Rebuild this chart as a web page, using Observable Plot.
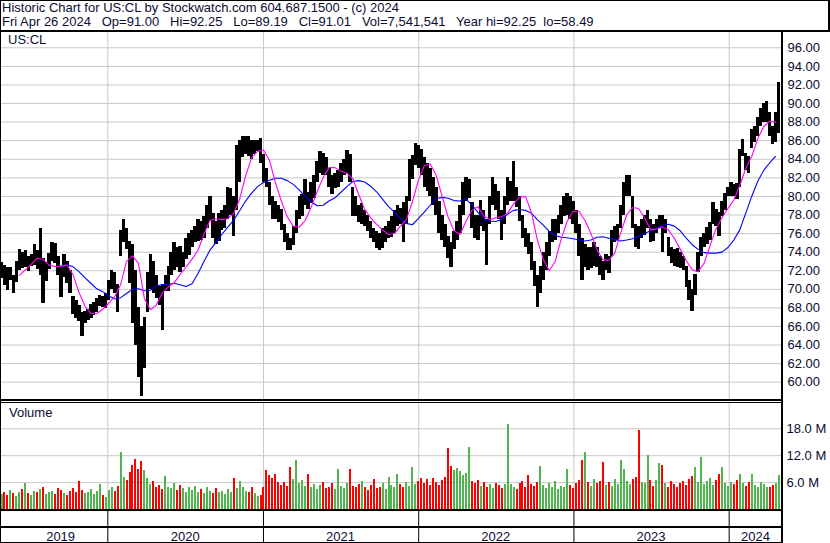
<!DOCTYPE html>
<html><head><meta charset="utf-8">
<script src="https://cdn.jsdelivr.net/npm/d3@7"></script>
<script src="https://cdn.jsdelivr.net/npm/@observablehq/plot@0.6"></script>
<style>
body{margin:0;background:#fff;}
#wrap{position:relative;width:830px;height:543px;overflow:hidden;background:#fff;font-family:"Liberation Sans",Arial,sans-serif;color:#0b0b33;}
.blk{position:absolute;background:#000;}
.txt{position:absolute;font-size:13px;line-height:14px;white-space:pre;color:#0b0b33;}
</style>
</head><body>
<div id="wrap"></div>
<script>
// ---------------- data ----------------
const symbol = "US:CL";
const titleLine = "Historic Chart for US:CL by Stockwatch.com 604.687.1500 - (c) 2024";
const quoteDate = "Fri Apr 26 2024";
const quoteLabels = ["Op", "Hi", "Lo", "Cl", "Vol", "Year hi", "lo"];
const quoteValues = ["91.00", "92.25", "89.19", "91.01", "7,541,541", "92.25", "58.49"];

const weekStart = "2019-04-26";
const chartEnd = "2024-04-26";

// weekly high / low (one bar per week)
const weekHigh = [
72.9,72.6,72.3,72.4,71.5,73.0,74.3,74.0,74.2,73.5,73.8,74.8,74.2,76.5,73.3,72.9,73.9,75.0,74.9,73.5,
72.5,73.8,73.0,72.0,69.2,68.8,68.3,67.5,67.6,67.8,68.4,68.6,69.0,69.3,69.2,69.6,71.0,72.0,71.8,70.5,
76.3,77.5,76.6,75.2,74.8,72.0,68.0,66.0,67.0,71.8,73.8,73.0,71.5,70.3,70.5,71.5,72.5,74.0,75.0,74.5,
74.6,74.0,75.5,76.0,76.3,76.8,
77.5,77.3,77.8,79.0,80.0,78.2,77.3,78.2,78.5,79.0,
81.0,80.8,80.0,85.5,86.0,86.4,86.5,86.5,86.0,86.0,
86.0,86.2,84.5,83.0,81.5,80.0,79.4,79.0,78.6,77.0,
76.0,75.5,76.8,78.5,80.0,80.2,81.8,80.4,81.5,82.2,
83.8,84.8,84.6,84.2,83.0,82.3,82.5,82.8,83.5,84.0,
84.9,84.5,81.0,80.0,79.0,79.2,78.5,78.0,77.3,76.6,
76.2,76.0,76.5,76.8,77.3,77.8,78.5,79.0,78.7,79.3,
80.0,84.0,84.4,85.7,85.5,85.0,84.2,83.5,83.0,82.0,
81.0,79.5,78.0,77.0,75.7,75.0,76.2,77.3,79.0,81.5,
82.0,81.8,79.3,78.0,78.0,79.6,78.5,77.5,80.0,82.0,
81.3,80.5,78.5,80.0,82.0,81.6,83.8,81.0,80.0,78.0,
76.5,76.0,75.0,73.0,71.5,72.5,74.0,75.0,76.2,77.5,
77.5,78.0,79.0,80.0,80.3,80.0,79.5,78.5,77.0,75.5,
74.8,
74.5,74.5,75.0,74.5,73.5,73.0,73.8,73.5,76.3,76.8,
77.0,79.0,81.5,82.2,82.2,80.0,77.0,76.8,77.5,78.0,
78.5,77.5,77.0,77.5,78.0,78.0,77.5,75.6,74.5,74.3,
74.4,74.0,73.5,72.5,71.0,70.0,71.6,74.0,75.6,76.0,
76.7,77.2,79.3,78.6,78.3,79.5,80.3,81.0,81.5,81.3,
81.4,85.0,86.1,84.6,84.3,87.2,87.5,88.5,89.5,90.0,
90.2,89.0,87.5,89.0,92.25
];
const weekLow = [
71.2,70.4,69.9,70.9,69.5,70.7,72.0,72.2,72.4,71.9,72.5,72.6,72.1,71.5,68.5,70.8,72.1,73.0,72.8,71.5,
69.1,71.3,70.6,69.6,67.3,66.9,66.5,64.9,66.3,66.6,66.9,67.2,67.5,68.2,68.0,67.9,68.8,70.0,69.5,67.5,
73.5,75.0,74.3,70.6,66.3,64.0,60.5,58.5,61.5,67.5,70.0,69.5,69.0,68.3,65.6,69.8,69.8,71.5,72.0,72.3,
71.8,72.4,73.2,73.6,74.5,75.0,
75.2,75.3,75.5,76.5,77.3,75.5,74.8,75.2,76.3,76.5,
77.5,78.0,75.7,78.5,81.5,84.2,84.5,84.3,84.0,84.5,
84.8,83.5,81.5,81.0,79.0,77.5,77.5,77.2,76.3,75.0,
74.2,74.2,74.7,76.0,77.5,77.8,79.0,78.6,79.2,79.8,
81.5,82.5,82.3,82.2,81.0,80.2,80.8,81.0,81.5,82.2,
82.5,81.5,77.8,77.8,77.2,77.0,76.8,76.2,75.5,75.0,
74.4,74.2,74.4,75.0,75.5,75.6,76.0,76.8,77.0,75.0,
77.0,79.5,81.8,83.3,83.0,82.2,81.0,80.5,80.0,79.0,
78.0,76.0,75.3,74.5,73.3,72.3,74.3,75.3,76.0,78.0,
79.5,79.8,76.5,75.5,75.3,76.8,76.2,72.6,77.0,79.0,
78.5,77.5,75.3,77.0,79.0,79.5,79.5,78.8,77.3,75.5,
74.5,73.8,72.0,70.3,68.0,69.5,71.0,72.0,73.5,75.0,
75.3,76.0,77.0,77.8,78.0,77.5,77.0,76.0,73.5,71.0,
72.3,
72.0,72.2,72.5,72.3,71.5,71.0,72.0,71.7,73.5,75.0,
75.3,76.5,78.0,80.0,80.0,76.5,74.5,74.3,75.5,75.8,
76.5,75.0,75.2,76.0,76.5,74.0,76.0,73.5,72.8,72.5,
72.3,72.2,72.0,70.2,68.8,67.6,69.3,71.8,73.5,74.5,
74.8,75.3,77.0,76.8,75.7,77.8,78.5,80.0,80.0,80.0,
79.7,81.0,84.3,82.8,82.5,85.2,85.8,86.5,87.5,88.0,
88.0,86.5,85.6,85.8,86.8
];
// weekly volume, millions of shares
const weekVolM = [
3.4,3.9,3.1,4.2,3.6,3.0,3.8,4.4,5.8,3.5, 3.2,4.0,3.7,4.5,4.9,3.3,3.9,4.1,3.4,4.6,
4.3,3.6,3.2,4.0,4.7,3.8,6.3,4.2,3.5,3.9, 4.4,3.3,4.0,5.6,3.1,2.6,4.2,4.8,4.0,5.1,
12.7,7.2,6.5,8.3,9.8,11.2,9.0,10.6,8.8,6.9, 5.5,6.2,4.8,5.3,4.5,7.4,5.0,4.6,5.9,4.3,
5.4,4.7,3.9,4.8,4.2,5.1,3.8,4.4,3.6,4.9, 4.0,3.5,4.6,3.8,4.1,3.4,4.5,3.9,6.9,4.6,
6.2,4.8,4.0,3.7,4.9,3.6,2.8,3.2,5.0,8.6, 7.6,7.0,7.9,6.1,5.4,6.0,5.2,9.4,6.6,11.0,
5.8,6.4,5.2,7.7,4.9,5.6,4.5,5.3,6.1,4.7, 5.0,5.7,4.4,8.9,5.2,4.6,5.9,9.0,5.1,4.8,
5.5,6.3,4.9,4.2,5.4,6.8,4.6,5.0,5.8,4.4, 7.2,5.3,4.9,7.9,5.6,4.8,6.0,5.1,9.4,5.5,
6.2,6.9,5.7,6.6,5.3,7.0,6.1,5.4,6.4,7.2, 13.6,9.5,8.8,9.2,8.4,7.6,8.0,13.8,6.3,5.9,
6.5,5.2,6.0,4.9,5.6,4.7,5.8,5.3,4.6,5.5, 19.0,5.6,5.0,4.4,5.8,6.2,4.8,7.6,5.5,5.1,
6.0,9.7,5.3,4.6,5.7,5.0,6.3,4.5,5.2,4.9, 8.9,5.4,4.7,5.9,6.4,11.0,12.7,6.0,5.2,6.6,
5.8,6.2,10.5,5.4,6.0,5.1,6.7,5.6,11.0,9.0, 6.3,5.5,6.8,7.2,17.7,6.1,5.7,12.1,6.5,5.2,
6.4,10.3,9.8,5.8,5.0,6.2,5.5,4.9,5.9,6.3, 5.4,6.6,7.4,9.4,6.0,11.7,5.6,6.2,7.0,5.3,
6.5,7.9,9.4,5.7,5.1,6.0,5.5,6.4,7.9,5.8, 5.2,6.0,7.7,5.4,4.9,6.1,5.6,5.0,4.8,5.3,
5.9,7.5
];
// moving averages, one value every two weeks
const maStepDays = 14;
const maShort = [
null,null,null,71.5,72.1,72.7,73.35,73.2,72.6,72.45,
72.5,72.6,71.6,69.7,68.2,67.4,67.4,67.85,68.5,69.2,
70.5,73.0,73.6,72.8,69.0,67.8,68.3,69.6,70.25,70.7,
71.6,72.4,73.25,74.2,75.9,77.4,77.6,77.5,77.6,78.2,
79.7,82.2,84.15,84.85,85.0,83.9,81.5,79.5,77.8,76.8,
76.7,77.4,78.8,80.5,82.0,83.1,83.1,82.7,82.5,81.9,
80.2,78.6,77.7,77.0,76.4,75.9,76.0,76.8,77.5,79.4,
81.7,83.3,83.5,82.3,80.0,77.8,76.3,75.9,77.3,78.5,
78.9,77.9,77.5,77.7,77.8,78.2,79.2,79.9,80.0,78.3,
75.3,73.2,72.0,73.0,75.4,77.3,78.4,78.4,77.4,76.0,
74.3,73.2,73.1,73.9,76.1,78.0,78.8,78.7,77.7,76.4,
76.5,76.7,76.4,75.5,74.3,73.1,72.1,71.9,72.8,74.7,
76.5,77.7,78.7,79.6,81.2,83.0,84.3,86.2,87.5,88.1,88.0
];
const maLong = [
null,null,null,null,null,null,null,null,null,null,
72.5,72.6,72.45,71.9,71.25,70.65,70.05,69.75,69.3,68.95,
69.1,69.55,70.0,70.05,69.85,69.9,70.35,70.5,70.55,70.65,
70.5,70.3,70.6,71.7,73.0,74.2,75.05,75.9,76.7,77.45,
78.45,79.5,80.35,81.05,81.5,81.75,81.95,81.95,81.7,81.3,
80.7,80.0,79.45,79.0,79.05,79.5,79.85,80.45,81.05,81.6,
81.7,81.55,81.1,80.5,79.7,78.9,78.3,77.6,77.1,76.95,
77.6,78.3,79.05,79.75,79.9,79.8,79.55,79.5,79.7,79.1,
78.3,77.6,77.35,77.3,77.5,78.1,78.5,78.6,78.5,78.2,
77.5,76.9,76.2,75.8,75.6,75.55,75.45,75.3,75.2,75.3,
75.6,75.65,75.5,75.35,75.2,75.3,75.45,75.7,76.0,76.3,
76.6,76.9,77.0,76.8,76.3,75.5,74.8,74.3,73.95,73.9,
73.9,74.0,74.5,75.3,76.4,78.2,80.0,81.6,82.8,83.6,84.3
];
const priceTicks = [60,62,64,66,68,70,72,74,76,78,80,82,84,86,88,90,92,94,96];
const volTicks = [6,12,18];
const yearStarts = ["2020-01-01","2021-01-01","2022-01-01","2023-01-01","2024-01-01"];
const yearLabels = ["2019","2020","2021","2022","2023","2024"];
const yearLabelAt = ["2019-09-12","2020-07-01","2021-07-01","2022-07-01","2023-07-01","2024-03-03"];

// ---------------- build ----------------
const P = s => new Date(s + "T00:00:00Z");
const t0 = P(weekStart);
const weeks = weekHigh.map((h, i) => ({date: d3.utcDay.offset(t0, 7 * i), hi: h, lo: weekLow[i], vol: weekVolM[i]}));
weeks.forEach((w, i) => {
  const m = (w.hi + w.lo) / 2;
  const pm = i ? (weeks[i - 1].hi + weeks[i - 1].lo) / 2 : m;
  w.up = m >= pm;
});
const maRows = arr => arr.map((v, i) => ({date: d3.utcDay.offset(t0, maStepDays * i), v})).filter(d => d.v != null);
const yearStartDates = yearStarts.map(P);
const yearText = yearLabels.map((l, i) => ({label: l, date: P(yearLabelAt[i])}));

const xScale = {type: "utc", domain: [t0, P(chartEnd)], range: [1, 778], axis: null};
const baseStyle = {background: "transparent", fontFamily: "'Liberation Sans', Arial, sans-serif", fontSize: "13px", color: "#0b0b33", overflow: "visible"};
const wrap = document.getElementById("wrap");
function place(node, left, top) { node.style.position = "absolute"; node.style.left = left + "px"; node.style.top = top + "px"; wrap.appendChild(node); }
function box(cls, l, t, w, h) { const d = document.createElement("div"); d.className = cls; Object.assign(d.style, {left: l + "px", top: t + "px", width: w + "px", height: h + "px"}); wrap.appendChild(d); return d; }
function label(text, l, t) { const d = box("txt", l, t, 0, 14); d.style.width = "auto"; d.textContent = text; return d; }

// price panel
const pricePlot = Plot.plot({
  width: 830, height: 368, marginLeft: 1, marginRight: 49, marginTop: 0, marginBottom: 0,
  style: baseStyle,
  x: xScale,
  y: {domain: [60, 96], range: [349.7, 15.3], axis: null},
  marks: [
    Plot.gridY(priceTicks, {stroke: "#c8c8c8", strokeOpacity: 1}),
    Plot.ruleX(yearStartDates, {stroke: "#c8c8c8", strokeWidth: 1}),
    Plot.ruleX(weeks, {x: "date", y1: "lo", y2: "hi", stroke: "#000", strokeWidth: 3.4, shapeRendering: "crispEdges"}),
    Plot.line(maRows(maLong), {x: "date", y: "v", stroke: "#0000ff", strokeWidth: 1.1}),
    Plot.line(maRows(maShort), {x: "date", y: "v", stroke: "#ff00ff", strokeWidth: 1.1}),
    Plot.axisY(priceTicks, {anchor: "right", label: null, tickSize: 0, tickPadding: 6, tickFormat: d => d.toFixed(2), fill: "#0b0b33"})
  ]
});
place(pricePlot, 0, 32);

// volume panel
const volPlot = Plot.plot({
  width: 830, height: 106, marginLeft: 1, marginRight: 49, marginTop: 0, marginBottom: 0,
  style: baseStyle,
  x: xScale,
  y: {domain: [0, 18], range: [106, 25.3], axis: null, label: null},
  marks: [
    Plot.gridY(volTicks, {stroke: "#c8c8c8", strokeOpacity: 1}),
    Plot.ruleX(yearStartDates, {stroke: "#c8c8c8", strokeWidth: 1}),
    Plot.ruleX(weeks.filter(d => d.up), {x: "date", y1: 0, y2: "vol", stroke: "#50b450", strokeWidth: 2, shapeRendering: "crispEdges"}),
    Plot.ruleX(weeks.filter(d => !d.up), {x: "date", y1: 0, y2: "vol", stroke: "#ff0000", strokeWidth: 2, shapeRendering: "crispEdges"}),
    Plot.axisY(volTicks, {anchor: "right", label: null, tickSize: 0, tickPadding: 5, tickFormat: d => d.toFixed(1) + " M", fill: "#0b0b33"})
  ]
});
place(volPlot, 0, 403);

// year strip
const yearPlot = Plot.plot({
  width: 830, height: 34, marginLeft: 1, marginRight: 49, marginTop: 0, marginBottom: 0,
  style: baseStyle,
  x: xScale,
  marks: [
    Plot.ruleX(yearStartDates, {stroke: "#000", strokeWidth: 1}),
    Plot.text(yearText, {x: "date", text: "label", frameAnchor: "bottom", lineAnchor: "bottom", dy: -3, fill: "#0b0b33", fontSize: 13})
  ]
});
place(yearPlot, 0, 509);

// header & frame
const q = quoteLabels.map((l, i) => l + "=" + quoteValues[i]);
label(titleLine, 2, 1);
label(quoteDate + "   " + q.slice(0, 5).join("   ") + "   " + q.slice(5).join("  "), 2, 15);
label(symbol, 8, 33);
label("Volume", 9, 406);
box("blk", 0, 0, 830, 1);
box("blk", 0, 30, 830, 2);
box("blk", 828, 0, 2, 32);
box("blk", 0, 0, 1, 543);
box("blk", 781, 30, 2, 513);
box("blk", 0, 399, 783, 2);
box("blk", 0, 402, 783, 1);
box("blk", 0, 509, 783, 2);
box("blk", 0, 526, 783, 2);
box("blk", 0, 542, 783, 1);
</script>
</body></html>
